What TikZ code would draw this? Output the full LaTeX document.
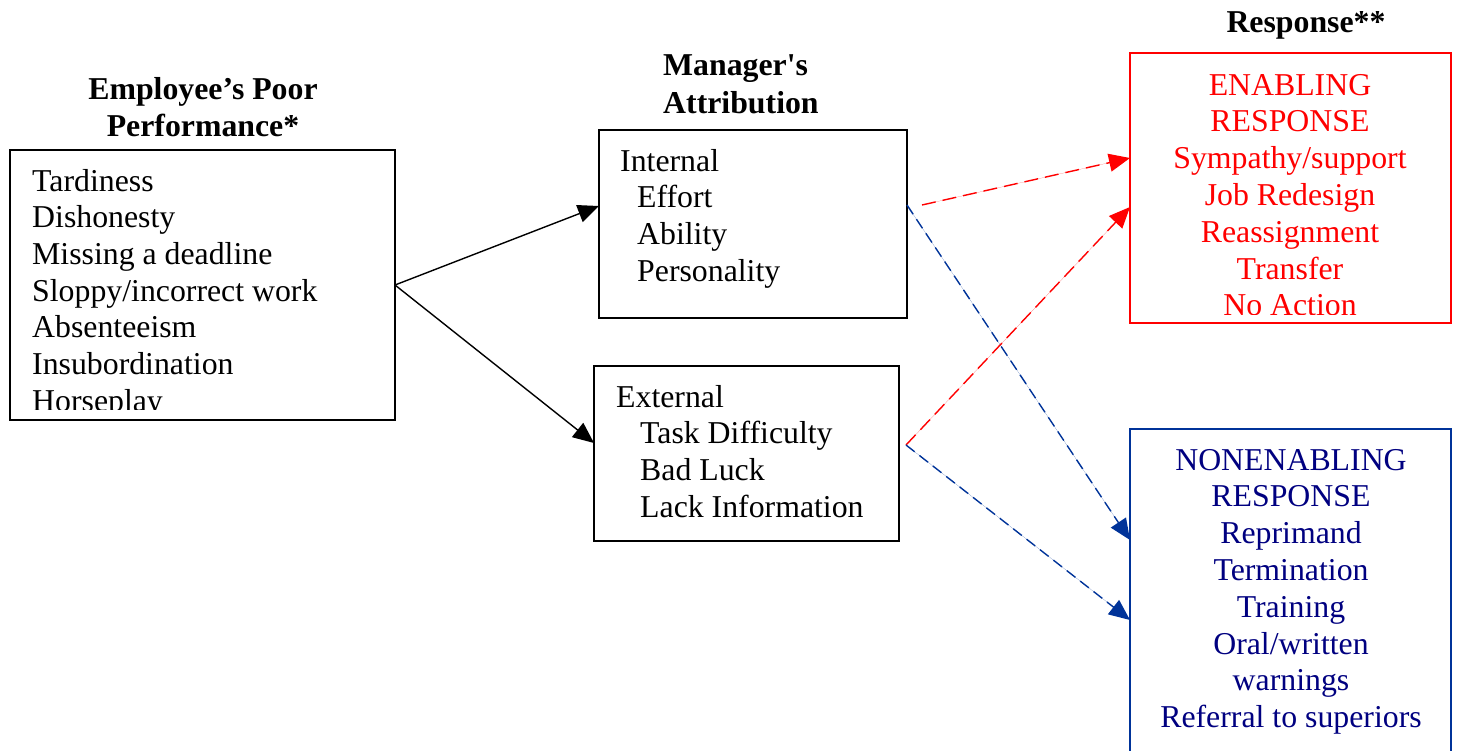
\documentclass[tikz,border=0pt]{standalone}
\usepackage{fontspec}
\setmainfont{Liberation Serif}
\usetikzlibrary{calc,arrows.meta}
\definecolor{enablered}{RGB}{255,0,0}
\definecolor{navytext}{RGB}{0,0,128}
\definecolor{navyline}{RGB}{0,51,153}
\tikzset{
  box/.style={draw, line width=1.6pt, inner sep=0pt, outer sep=0pt, anchor=north west},
  item/.style={inner sep=0pt, font=\fontsize{31.8}{36.8}\selectfont},
  heading/.style={inner sep=0pt, font=\bfseries\fontsize{31.8}{36.8}\selectfont},
  solidarrow/.style={line width=1.4pt, -{Triangle[length=21pt,width=18pt]}},
  reddash/.style={draw=enablered, fill=enablered, line width=1.4pt, dash pattern=on 14pt off 7pt, -{Triangle[length=21pt,width=18pt]}},
  bluedash/.style={draw=navyline, fill=navyline, line width=1.4pt, dash pattern=on 11pt off 6pt, -{Triangle[length=21pt,width=18pt]}}
}
\begin{document}
\begin{tikzpicture}[x=1pt, y=-1pt]
		%%%%% START %%%%%
		\useasboundingbox (0,0) rectangle (1457,750);
		\clip (0,0) rectangle (1457,750);
		
		\node[heading, anchor=base] (perfhead1) at (203,99) {Employee’s Poor};
		\node[heading, anchor=base] (perfhead2) at (203,136) {Performance*};
		\node[heading, anchor=base west] (attrhead1) at (663,75) {Manager\textquotesingle s};
		\node[heading, anchor=base west] (attrhead2) at (663,113) {Attribution};
		\node[heading, anchor=base] (resphead) at (1306,32) {Response**};
		
		\node[box, minimum width=385pt, minimum height=270pt] (perf) at (10,150) {};
		\node[box, minimum width=308pt, minimum height=188pt] (internal) at (599,130) {};
		\node[box, line width=2.4pt, minimum width=305pt, minimum height=175pt] (external) at (594,366) {};
		\node[box, draw=enablered, minimum width=321pt, minimum height=270pt] (enab) at (1130,53) {};
		\node[box, draw=navyline, minimum width=321pt, minimum height=340pt] (nonenab) at (1130,429) {};
		
		\begin{scope}
			\clip (perf.north west) rectangle ($(perf.south east)+(0,-11)$);
			\foreach \t [count=\i] in {Tardiness, Dishonesty, Missing a deadline, Sloppy/incorrect work, Absenteeism, Insubordination, Horseplay}
				\node[item, anchor=base west] (perf-\i) at (32, {191+(\i-1)*36.7}) {\t};
		\end{scope}
		
		\node[item, anchor=base west] (int-0) at (620,171) {Internal};
		\foreach \t [count=\i] in {Effort, Ability, Personality}
			\node[item, anchor=base west] (int-\i) at (637, {171+\i*36.9}) {\t};
		
		\node[item, anchor=base west] (ext-0) at (616,407) {External};
		\foreach \t [count=\i] in {Task Difficulty, Bad Luck, Lack Information}
			\node[item, anchor=base west] (ext-\i) at (640, {407+\i*36.7}) {\t};
		
		\begin{scope}
			\clip (enab.north west) rectangle ($(enab.south east)+(0,-9)$);
			\foreach \t [count=\i] in {ENABLING, RESPONSE, Sympathy/support, Job Redesign, Reassignment, Transfer, No Action}
				\node[item, text=enablered, anchor=base] (enab-\i) at (1290, {95+(\i-1)*36.8}) {\t};
		\end{scope}
		
		\foreach \t [count=\i] in {NONENABLING, RESPONSE, Reprimand, Termination, Training, Oral/written, warnings, Referral to superiors}
			\node[item, text=navytext, anchor=base] (nonenab-\i) at (1291, {470+(\i-1)*36.8}) {\t};
		
		\coordinate (int-out) at ($(internal.north east)+(0,75)$);
		\coordinate (int-gap) at ($(internal.north east)+(15,75)$);
		\coordinate (ext-out) at ($(external.north east)+(7,79)$);
		
		\draw[solidarrow] (perf.east) -- ($(internal.north west)+(0,76)$);
		\draw[solidarrow] (perf.east) -- ($(external.north west)+(0,77)$);
		
		\draw[reddash] (int-gap) -- ($(enab.north west)+(0,105)$);
		\draw[reddash] (ext-out) -- ($(enab.north west)+(0,154)$);
		\draw[bluedash] (int-out) -- ($(nonenab.north west)+(0,111)$);
		\draw[bluedash] (ext-out) -- ($(nonenab.north west)+(0,191)$);
		
		%%%%% END %%%%%
	\end{tikzpicture}
\end{document}
